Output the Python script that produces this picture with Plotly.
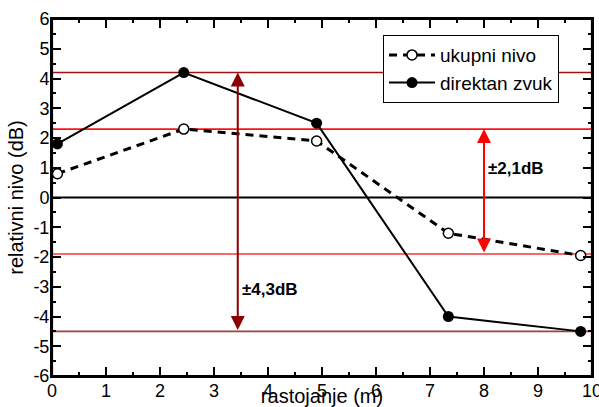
import plotly.graph_objects as go

# data
distance = [0.1, 2.44, 4.9, 7.34, 9.79]
ukupni_nivo = [0.8, 2.3, 1.9, -1.2, -1.95]
direktan_zvuk = [1.8, 4.2, 2.5, -4.0, -4.5]
ref_levels = [4.2, 2.3, -1.9, -4.5]
ref_colors = ["#A01010", "#FF1010", "#EE3838", "#A04040"]
span_x = [3.44, 8.0]
span_top = [4.2, 2.3]
span_bottom = [-4.5, -1.9]
span_labels = ["±4,3dB", "±2,1dB"]
span_label_y = [-3.1, 0.97]
span_colors = ["#8B0000", "#FF0000"]
x_ticks = list(range(0, 11))
y_ticks = list(range(-6, 7))
x_tick_text = [str(v) for v in x_ticks]
y_tick_text = [str(v) for v in y_ticks]

fig = go.Figure()

# horizontal reference lines
for lvl, col in zip(ref_levels, ref_colors):
    fig.add_shape(type="line", xref="paper", x0=0, x1=1, yref="y", y0=lvl, y1=lvl,
                  line=dict(color=col, width=1.6), layer="below")
# zero line
fig.add_shape(type="line", xref="paper", x0=0, x1=1, yref="y", y0=0, y1=0,
              line=dict(color="black", width=2.2), layer="below")

fig.add_trace(go.Scatter(
    x=distance, y=ukupni_nivo, name="ukupni nivo", mode="lines+markers",
    line=dict(color="black", width=3, dash="8px,6px"),
    marker=dict(symbol="circle", size=10, color="white", line=dict(color="black", width=1.5)),
))
fig.add_trace(go.Scatter(
    x=distance, y=direktan_zvuk, name="direktan zvuk", mode="lines+markers",
    line=dict(color="black", width=2),
    marker=dict(symbol="circle", size=11, color="black"),
))

for xs, yt, yb, lab, ly, col in zip(span_x, span_top, span_bottom, span_labels, span_label_y, span_colors):
    fig.add_annotation(x=xs, y=yt, ax=xs, ay=yb, xref="x", yref="y", axref="x", ayref="y",
                       text="", showarrow=True, arrowhead=2, arrowside="end+start",
                       arrowsize=1.4, arrowwidth=2, arrowcolor=col, standoff=0, startstandoff=0)
    fig.add_annotation(x=xs, y=ly, xref="x", yref="y", text="<b>" + lab + "</b>",
                       showarrow=False, xanchor="left", xshift=2,
                       font=dict(family="Liberation Sans, Arial", size=17, color="black"))

# plot frame
fig.add_shape(type="rect", xref="paper", yref="paper", x0=0, x1=1, y0=0, y1=1,
              line=dict(color="black", width=2.2), layer="above")

axis_common = dict(
    showline=True, linecolor="black", linewidth=2, mirror="allticks",
    ticks="inside", ticklen=9, tickwidth=1.5, tickcolor="black",
    showgrid=False, zeroline=False, automargin=False, ticklabeloverflow="allow",
    tickfont=dict(family="Liberation Sans, Arial", size=18, color="black"),
    minor=dict(ticks="inside", ticklen=4, tickwidth=1.5, tickcolor="black", showgrid=False),
)

fig.update_layout(
    width=599, height=407,
    margin=dict(l=52, r=7, t=19, b=31),
    paper_bgcolor="white", plot_bgcolor="white",
    font=dict(family="Liberation Sans, Arial", color="black"),
    xaxis=dict(range=[0, 10], tickmode="array", tickvals=x_ticks, ticktext=x_tick_text,
               ticklabelstandoff=-3,
               title=dict(text="rastojanje (m)", font=dict(size=20), standoff=0),
               **axis_common),
    yaxis=dict(range=[-6, 6], tickmode="array", tickvals=y_ticks, ticktext=y_tick_text,
               ticklabelstandoff=-3,
               title=dict(text="relativni nivo (dB)", font=dict(size=20), standoff=4),
               **axis_common),
    legend=dict(x=0.613, y=0.955, xanchor="left", yanchor="top",
                bgcolor="white", bordercolor="black", borderwidth=1,
                font=dict(family="Liberation Sans, Arial", size=19, color="black"),
                itemwidth=46, tracegroupgap=0),
    showlegend=True,
)

fig.write_html("out.html", config={"displayModeBar": False},
               post_script="document.body.style.margin='0';document.body.style.overflow='hidden';")
